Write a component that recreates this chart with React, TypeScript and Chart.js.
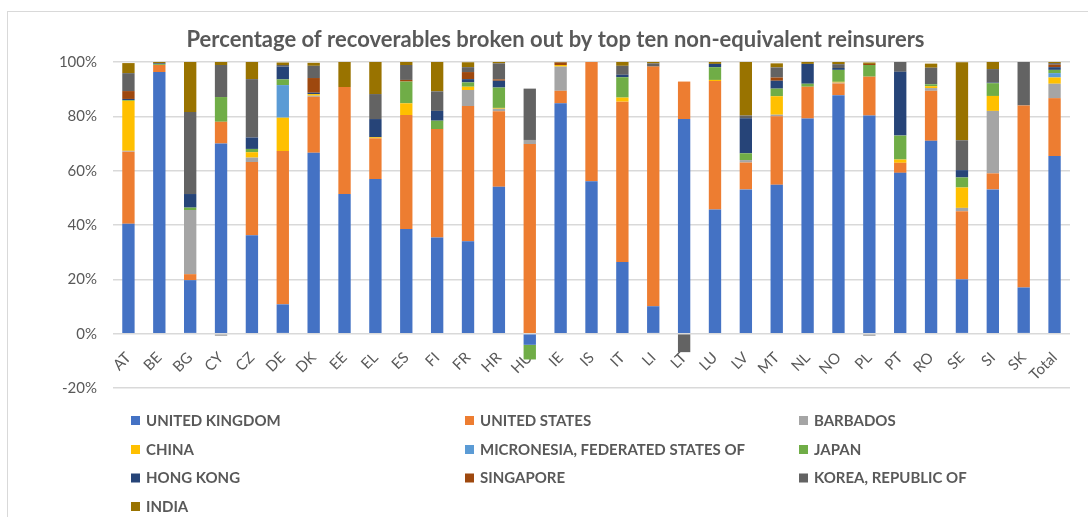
import React, { useEffect, useRef } from "react";
import { Chart, registerables } from "chart.js";

Chart.register(...registerables);

const categories = ["AT","BE","BG","CY","CZ","DE","DK","EE","EL","ES","FI","FR","HR","HU","IE","IS","IT","LI","LT","LU","LV","MT","NL","NO","PL","PT","RO","SE","SI","SK","Total"];

const unitedKingdom = [40.5,96.3,19.7,70.0,36.2,10.8,66.6,51.4,56.9,38.5,35.4,34.0,54.1,-4.1,84.8,56.1,26.4,10.1,79.0,45.7,53.1,54.8,79.2,87.8,80.3,59.2,71.0,20.0,53.1,17.0,65.4];
const unitedStates = [26.5,2.6,2.2,8.0,27.0,56.4,20.6,39.4,15.0,42.0,39.9,49.8,27.8,69.8,4.6,43.9,59.0,88.2,13.8,47.3,9.9,25.2,11.7,4.3,14.3,3.7,18.4,25.1,5.9,67.0,21.3];
const barbados = [0.3,0,23.6,-0.8,1.6,0,0.4,0,0,0,0,5.9,0.9,1.5,8.9,0,0,0,0,0,0.9,0.6,0,0.3,-0.8,0,1.0,1.2,23.0,0,5.3];
const china = [18.4,0,0,0,2.0,12.3,0.6,0,0.4,4.3,0,1.2,0.3,0,0.6,0,1.5,0,0,0.4,0,6.8,0,0.3,0,1.2,0.7,7.5,5.5,0,2.3];
const micronesia = [0,0,0,0,0,12.0,0,0,0,0,0,0,0,0,0,0,0,0,0,0,0,0,0,0,0,0,0,0,0,0,1.6];
const japan = [0.3,0.3,0.9,9.1,1.2,2.1,0,0,0,8.0,3.1,1.6,7.5,-5.4,0,0,7.5,0,0,4.7,2.5,2.8,1.1,4.4,4.3,8.8,0.7,3.7,4.7,0,1.2];
const hongKong = [0.4,0.3,5.0,0,4.2,4.7,0.5,0,6.7,0,3.6,1.2,2.5,0,0,0,0.9,0,0,1.2,12.9,2.9,7.3,0.7,0,23.5,0,2.7,0.2,0,1.0];
const singapore = [2.9,0,0,0,0,0,5.4,0,0,0.6,0,2.6,0.5,0,0.9,0,0,0,0,0,0,1.2,0,0,0.4,0,0,0,0,0,0.9];
const korea = [6.6,0,30.2,11.8,21.5,0.6,4.5,0,9.2,5.5,7.2,1.8,5.9,18.9,0,0,3.3,1.2,-6.8,0,1.0,3.7,0,1.4,0,3.6,6.1,11.0,5.0,16.1,0.6];
const india = [3.7,0.5,18.4,1.1,6.3,0.9,1.1,9.2,12.0,1.1,10.8,1.8,0.5,0,0.2,0,1.5,0.5,0,0.7,19.8,1.5,0.7,1.1,0.5,0,1.5,28.7,2.6,0,0.5];

const seriesNames = ["UNITED KINGDOM","UNITED STATES","BARBADOS","CHINA","MICRONESIA, FEDERATED STATES OF","JAPAN","HONG KONG","SINGAPORE","KOREA, REPUBLIC OF","INDIA"];
const seriesValues = [unitedKingdom, unitedStates, barbados, china, micronesia, japan, hongKong, singapore, korea, india];
const seriesColors = ["#4472C4","#ED7D31","#A5A5A5","#FFC000","#5B9BD5","#70AD47","#264478","#9E480E","#636363","#997300"];

const yTicks = [-20, 0, 20, 40, 60, 80, 100];
const titleText = "Percentage of recoverables broken out by top ten non-equivalent reinsurers";

const FONT = "Lato, 'Liberation Sans', sans-serif";
const GRAY = "#595959";

const framePlugin = {
  id: "frame",
  beforeDraw(chart: any) {
    const ctx = chart.ctx;
    ctx.save();
    ctx.fillStyle = "#ffffff";
    ctx.fillRect(0, 0, chart.width, chart.height);
    ctx.strokeStyle = "#d9d9d9";
    ctx.lineWidth = 1;
    ctx.strokeRect(7.5, 11.5, chart.width + 20, chart.height + 20);
    ctx.restore();
  },
  afterDraw(chart: any) {
    const ctx = chart.ctx;
    ctx.save();
    ctx.font = "bold 22px " + FONT;
    ctx.fillStyle = GRAY;
    ctx.textAlign = "center";
    ctx.textBaseline = "alphabetic";
    ctx.fillText(titleText, 555.5, 46.5);
    ctx.restore();
  },
};

const gridLegendPlugin = {
  id: "gridLegend",
  afterDraw(chart: any) {
    const ctx = chart.ctx;
    const colX = [131, 465, 799];
    const rowY = [420.5, 449.5, 478, 506.5];
    ctx.save();
    ctx.font = "bold 15px " + FONT;
    ctx.textBaseline = "middle";
    ctx.textAlign = "left";
    chart.data.datasets.forEach((ds: any, i: number) => {
      const c = i % 3;
      const r = Math.floor(i / 3);
      const x = colX[c];
      const y = rowY[r];
      ctx.fillStyle = ds.backgroundColor;
      ctx.fillRect(x, y - 4.5, 9, 9);
      ctx.fillStyle = GRAY;
      ctx.fillText(ds.label, x + 15, y + 0.5);
    });
    ctx.restore();
  },
};

export default function App() {
  const canvasRef = useRef<HTMLCanvasElement | null>(null);

  useEffect(() => {
    if (!canvasRef.current) return;
    const chart = new Chart(canvasRef.current, {
      type: "bar",
      data: {
        labels: categories,
        datasets: seriesNames.map((name, i) => ({
          label: name,
          data: seriesValues[i],
          backgroundColor: seriesColors[i],
          borderWidth: 0,
          categoryPercentage: 1,
          barPercentage: 0.4,
        })),
      },
      options: {
        responsive: false,
        animation: false,
        devicePixelRatio: 1,
        layout: { padding: { left: 0, right: 18, top: 62, bottom: 129 } },
        plugins: {
          legend: { display: false },
          tooltip: { enabled: false },
          title: { display: false },
        },
        scales: {
          x: {
            stacked: true,
            position: { y: 0 } as any,
            grid: { display: false },
            border: { display: false },
            ticks: {
              autoSkip: false,
              minRotation: 45,
              maxRotation: 45,
              color: GRAY,
              padding: 7,
              font: { family: FONT, size: 15 },
            },
          },
          y: {
            stacked: true,
            min: yTicks[0],
            max: yTicks[yTicks.length - 1],
            afterFit: (s: any) => { s.width = 113; },
            afterBuildTicks: (s: any) => { s.ticks = yTicks.map((v) => ({ value: v })); },
            grid: { color: "#d9d9d9", lineWidth: 1.5, drawTicks: false },
            border: { display: false },
            ticks: {
              color: GRAY,
              padding: 16,
              font: { family: FONT, size: 15 },
              callback: (v: any) => v + "%",
            },
          },
        },
      },
      plugins: [framePlugin, gridLegendPlugin],
    });
    return () => chart.destroy();
  }, []);

  return (
    <div style={{ position: "absolute", left: 0, top: 0, width: 1088, height: 517 }}>
      <canvas ref={canvasRef} width={1088} height={517} />
    </div>
  );
}
